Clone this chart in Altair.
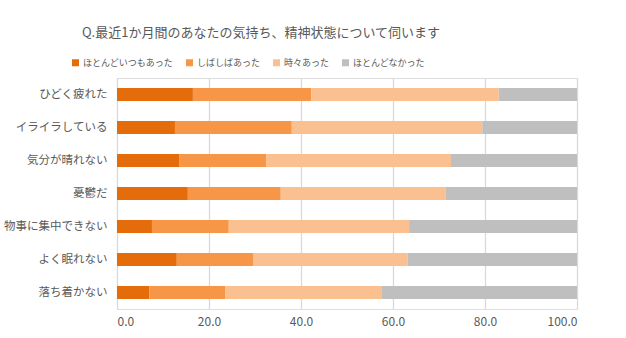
import altair as alt
import pandas as pd

categories = ["ひどく疲れた", "イライラしている", "気分が晴れない", "憂鬱だ", "物事に集中できない", "よく眠れない", "落ち着かない"]
series = ["ほとんどいつもあった", "しばしばあった", "時々あった", "ほとんどなかった"]
almost_always = [16.5, 12.6, 13.5, 15.4, 7.6, 13.0, 7.0]
often = [25.7, 25.4, 19.0, 20.2, 16.7, 16.7, 16.5]
sometimes = [40.8, 41.4, 40.1, 35.9, 39.2, 33.5, 34.1]
rarely = [17.0, 20.6, 27.4, 28.5, 36.5, 36.8, 42.4]
colors = ["#E46C0A", "#F79646", "#FAC090", "#BFBFBF"]
x_ticks = [0, 20, 40, 60, 80, 100]

rows = []
for si, (s, vals) in enumerate(zip(series, [almost_always, often, sometimes, rarely])):
    for c, v in zip(categories, vals):
        rows.append({"項目": c, "回答": s, "割合": v, "順": si})
df = pd.DataFrame(rows)

FONT = "Noto Sans CJK JP"
TXT = "#595959"

chart = alt.Chart(df).mark_bar(size=13).encode(
    y=alt.Y("項目:N", sort=categories, title=None,
            scale=alt.Scale(paddingInner=0.606, paddingOuter=0.303),
            axis=alt.Axis(labelFont=FONT, labelFontSize=11.5, labelColor=TXT,
                          ticks=False, domain=False, labelPadding=10)),
    x=alt.X("割合:Q", stack="zero", title=None,
            scale=alt.Scale(domain=[0, 100], nice=False),
            axis=alt.Axis(values=x_ticks, format=".1f", labelFont=FONT, labelFontSize=12,
                          labelColor=TXT, ticks=False, domain=False, grid=True,
                          gridColor="#D9D9D9", gridWidth=1.3, labelPadding=7)),
    color=alt.Color("回答:N", sort=series,
                    scale=alt.Scale(domain=series, range=colors),
                    legend=alt.Legend(title=None, orient="none", direction="horizontal",
                                      legendX=-46, legendY=-20, columns=4,
                                      symbolType="square", symbolSize=49,
                                      symbolStrokeWidth=0, labelFont=FONT,
                                      labelFontSize=9, labelColor=TXT,
                                      columnPadding=11, symbolOffset=0, labelOffset=3)),
    order=alt.Order("順:Q", sort="ascending"),
).properties(
    width=460, height=231,
    title=alt.TitleParams("Q.最近1か月間のあなたの気持ち、精神状態について伺います",
                          font=FONT, fontSize=13, fontWeight="normal", color=TXT,
                          anchor="middle", dx=-86, offset=18),
    padding={"left": 117, "top": 78, "right": 49, "bottom": 29},
    autosize=alt.AutoSizeParams(type="none"),
).configure_view(stroke=None).configure(background="white")

chart.save("out.html", embed_options={"renderer": "svg", "actions": False})
